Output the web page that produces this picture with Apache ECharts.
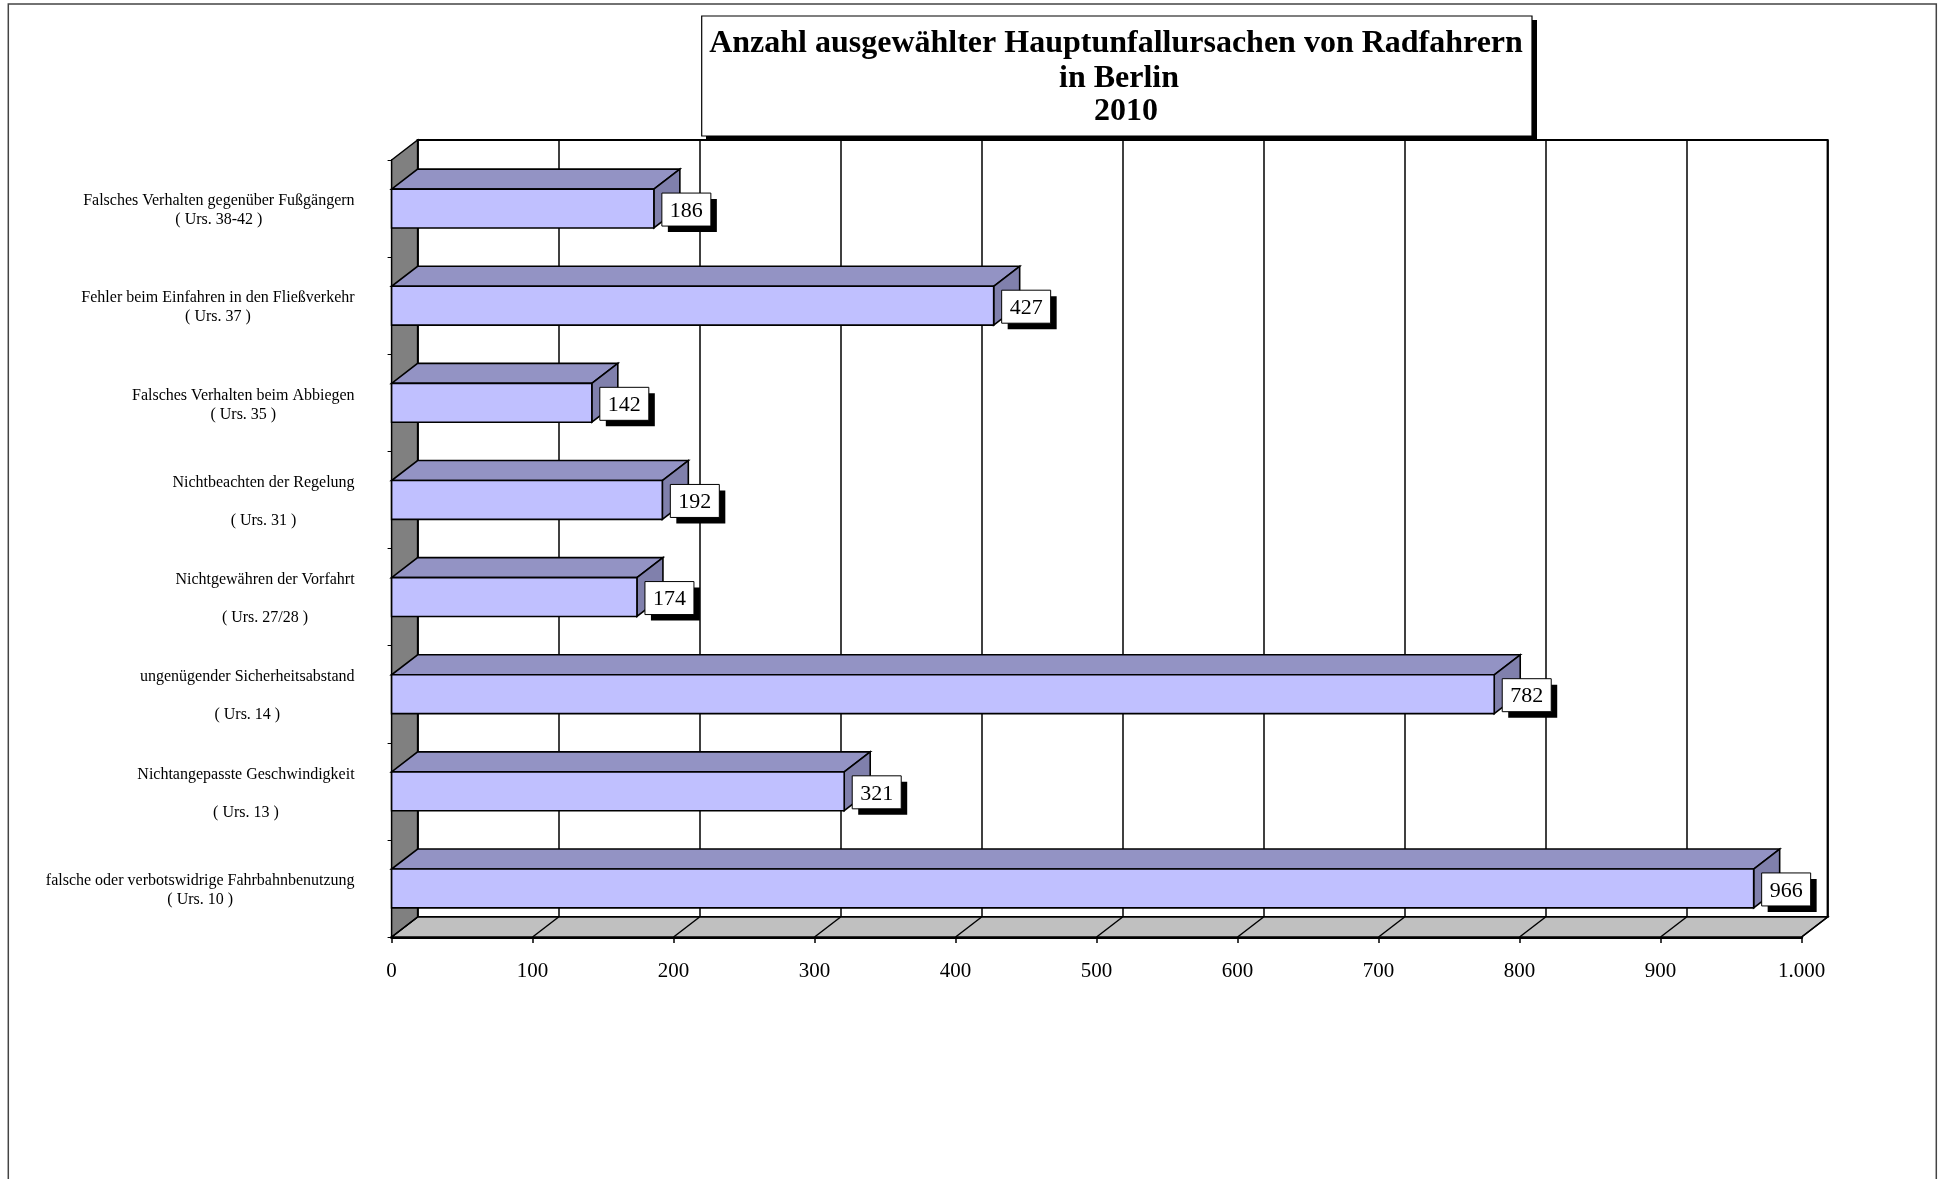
<!DOCTYPE html>
<html><head><meta charset="utf-8">
<script src="https://cdn.jsdelivr.net/npm/echarts@6/dist/echarts.min.js"></script>
<style>html,body{margin:0;padding:0;background:#fff}#c{width:1943px;height:1179px}</style>
</head><body><div id="c"></div>
<script>
// ---- data ----
const titleLines = ['Anzahl ausgewählter Hauptunfallursachen von Radfahrern', 'in Berlin', '2010'];
const categories = [
  'Falsches Verhalten gegenüber Fußgängern\n( Urs. 38-42 )',
  'Fehler beim Einfahren in den Fließverkehr\n( Urs. 37 )',
  'Falsches Verhalten beim Abbiegen\n( Urs. 35 )',
  'Nichtbeachten der Regelung\n\n( Urs. 31 )',
  'Nichtgewähren der Vorfahrt\n\n( Urs. 27/28 )',
  'ungenügender Sicherheitsabstand\n\n( Urs. 14 )',
  'Nichtangepasste Geschwindigkeit\n\n( Urs. 13 )',
  'falsche oder verbotswidrige Fahrbahnbenutzung\n( Urs. 10 )'
];
const values = [186, 427, 142, 192, 174, 782, 321, 966];
const xTicks = [0, 100, 200, 300, 400, 500, 600, 700, 800, 900, 1000];

// ---- layout / style ----
const DX = 26, DY = -20;
const FONT = '"Liberation Serif","Times New Roman",serif';
const front = { left: 391.6, top: 160, width: 1410, height: 777 };
const back = { left: front.left + DX, top: front.top + DY, width: front.width, height: front.height };
const C_FRONT = '#C0C0FF', C_TOP = '#9393C4', C_SIDE = '#8080AC';

function fmtDE(v) { return String(v).replace(/\B(?=(\d{3})+(?!\d))/g, '.'); }

const chart = echarts.init(document.getElementById('c'), null, { renderer: 'canvas' });

const option = {
  animation: false,
  backgroundColor: '#fff',
  grid: [
    { left: front.left, top: front.top, width: front.width, height: front.height, containLabel: false },
    { left: back.left, top: back.top, width: back.width, height: back.height, show: true,
      backgroundColor: '#fff', borderColor: '#000', borderWidth: 2, z: 0 }
  ],
  xAxis: [
    { gridIndex: 0, type: 'value', min: 0, max: 1000, interval: 100,
      axisLine: { show: true, onZero: false, lineStyle: { color: '#000', width: 3 } },
      axisTick: { show: true, length: 6, lineStyle: { color: '#000', width: 1.5 } },
      splitLine: { show: false },
      axisLabel: { margin: 24, color: '#000', fontFamily: FONT, fontSize: 21, lineHeight: 21, formatter: fmtDE } },
    { gridIndex: 1, type: 'value', min: 0, max: 1000, interval: 100,
      axisLine: { show: false }, axisTick: { show: false }, axisLabel: { show: false },
      splitLine: { show: true, lineStyle: { color: '#000', width: 1.5 } } }
  ],
  yAxis: [
    { gridIndex: 0, type: 'category', data: categories, inverse: true,
      axisLine: { show: true, onZero: false, lineStyle: { color: '#000', width: 2 } },
      axisTick: { show: true, length: 4, lineStyle: { color: '#000', width: 1 } },
      splitLine: { show: false },
      axisLabel: { margin: 37, padding: [4, 0, 0, 0],
        formatter: function (val) { return val.split('\n').map(function (s) { return '{c|' + (s || ' ') + '}'; }).join('\n'); },
        rich: { c: { align: 'center', fontFamily: FONT, fontSize: 16, lineHeight: 19, color: '#000' } } } },
    { gridIndex: 1, type: 'category', data: categories, inverse: true, show: false }
  ],
  series: [
    { // left wall + floor
      type: 'custom', xAxisIndex: 0, yAxisIndex: 0, z: 1, silent: true,
      data: [[0, 0]],
      renderItem: function (params, api) {
        const cs = params.coordSys;
        const x = cs.x, y = cs.y, w = cs.width, h = cs.height;
        const st = { stroke: '#000', lineWidth: 1.5 };
        return { type: 'group', children: [
          { type: 'polygon', shape: { points: [[x, y + h], [x + w, y + h], [x + w + DX, y + h + DY], [x + DX, y + h + DY]] },
            style: Object.assign({ fill: '#C0C0C0' }, st) },
          { type: 'polygon', shape: { points: [[x, y], [x + DX, y + DY], [x + DX, y + h + DY], [x, y + h]] },
            style: Object.assign({ fill: '#808080' }, st) }
        ] };
      }
    },
    { // floor diagonal lines at ticks
      type: 'custom', xAxisIndex: 0, yAxisIndex: 0, z: 2, silent: true,
      data: xTicks.map(function (v) { return [v, 0]; }),
      renderItem: function (params, api) {
        const cs = params.coordSys;
        const p = api.coord([api.value(0), 0]);
        const yb = cs.y + cs.height;
        return { type: 'line', shape: { x1: p[0], y1: yb, x2: p[0] + DX, y2: yb + DY },
          style: { stroke: '#000', lineWidth: 1.5 } };
      }
    },
    { // 3D bars with labels
      type: 'custom', xAxisIndex: 0, yAxisIndex: 0, z: 3, silent: true,
      data: values.map(function (v, i) { return [v, i]; }),
      renderItem: function (params, api) {
        const v = api.value(0), i = api.value(1);
        const p0 = api.coord([0, i]), p1 = api.coord([v, i]);
        const band = api.size([0, 1])[1];
        const h = band * 0.4;
        const x0 = p0[0], x1 = p1[0], yc = p1[1];
        const yT = yc - h / 2, yB = yc + h / 2;
        const st = { stroke: '#000', lineWidth: 1.6 };
        const bw = 49, bh = 33, bx = x1 + 8, by = yc - bh / 2 + 1;
        return { type: 'group', children: [
          { type: 'polygon', shape: { points: [[x0, yT], [x1, yT], [x1 + DX, yT + DY], [x0 + DX, yT + DY]] },
            style: Object.assign({ fill: C_TOP }, st) },
          { type: 'polygon', shape: { points: [[x1, yT], [x1 + DX, yT + DY], [x1 + DX, yB + DY], [x1, yB]] },
            style: Object.assign({ fill: C_SIDE }, st) },
          { type: 'rect', shape: { x: x0, y: yT, width: x1 - x0, height: h },
            style: Object.assign({ fill: C_FRONT }, st) },
          { type: 'rect', shape: { x: bx + 6, y: by + 6, width: bw, height: bh }, style: { fill: '#000' } },
          { type: 'rect', shape: { x: bx, y: by, width: bw, height: bh }, style: { fill: '#fff', stroke: '#000', lineWidth: 1 } },
          { type: 'text', x: bx + bw / 2, y: by + bh / 2 + 1.5,
            style: { text: String(v), fill: '#000', fontFamily: FONT, fontSize: 22, align: 'center', verticalAlign: 'middle' } }
        ] };
      }
    }
  ],
  graphic: [
    { type: 'rect', z: 100, silent: true, shape: { x: 8.3, y: 4, width: 1928, height: 1200 },
      style: { fill: 'none', stroke: '#444', lineWidth: 1.5 } },
    { type: 'rect', z: 100, silent: true, shape: { x: 706, y: 20, width: 831, height: 119.5 }, style: { fill: '#000' } },
    { type: 'rect', z: 101, silent: true, shape: { x: 701.7, y: 16, width: 830.3, height: 120 },
      style: { fill: '#fff', stroke: '#000', lineWidth: 1.2 } },
    { type: 'text', z: 102, silent: true, x: 1116, y: 44,
      style: { text: titleLines[0], fill: '#000', fontFamily: FONT, fontWeight: 'bold', fontSize: 32, align: 'center', verticalAlign: 'middle' } },
    { type: 'text', z: 102, silent: true, x: 1119, y: 79,
      style: { text: titleLines[1], fill: '#000', fontFamily: FONT, fontWeight: 'bold', fontSize: 32, align: 'center', verticalAlign: 'middle' } },
    { type: 'text', z: 102, silent: true, x: 1126, y: 112,
      style: { text: titleLines[2], fill: '#000', fontFamily: FONT, fontWeight: 'bold', fontSize: 32, align: 'center', verticalAlign: 'middle' } }
  ]
};
chart.setOption(option);
</script>
</body></html>
